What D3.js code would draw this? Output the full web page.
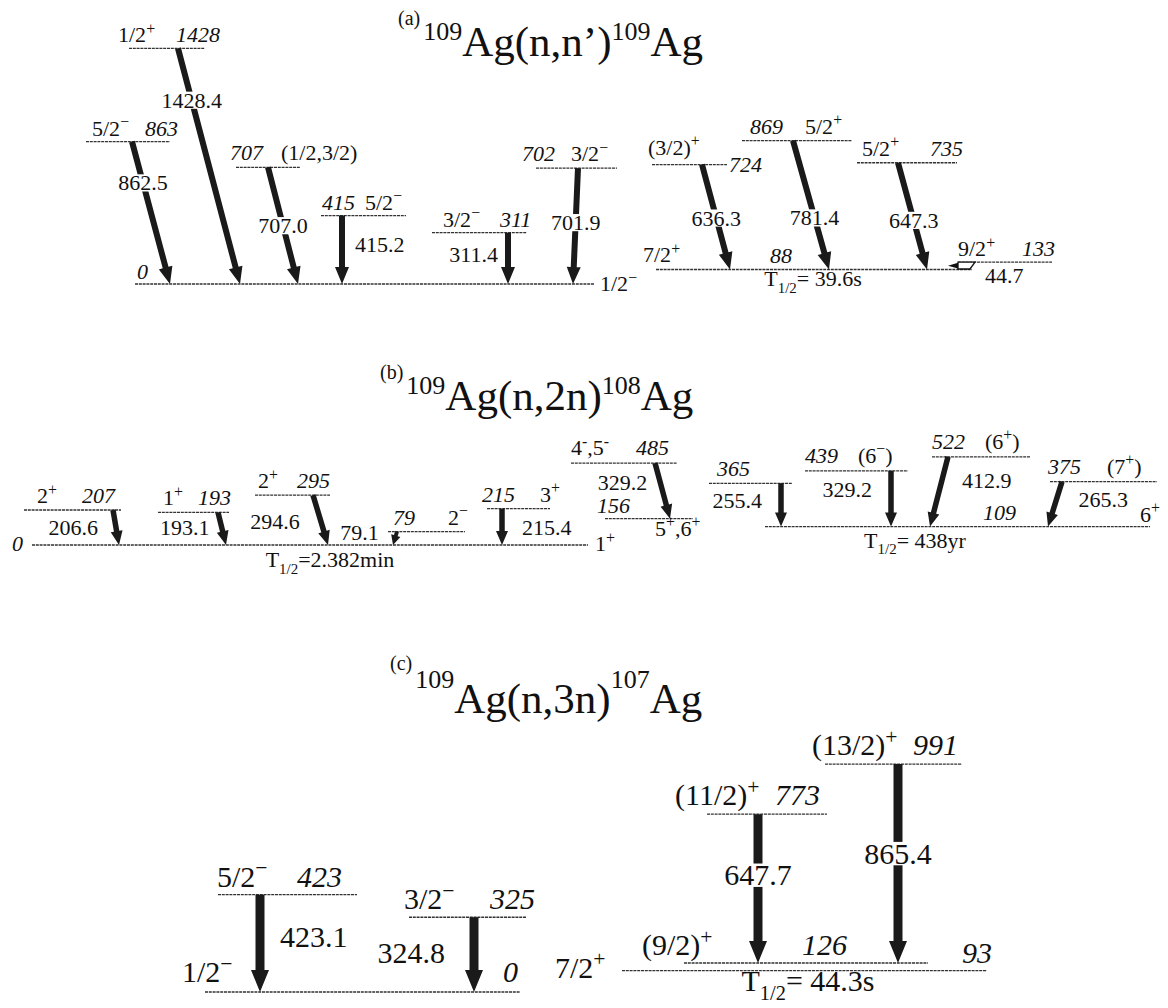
<!DOCTYPE html>
<html>
<head>
<script src="https://cdn.jsdelivr.net/npm/d3@7"></script>
</head>
<body style="margin:0">
<svg id="chart" width="1168" height="1008"></svg>
<script>
// ---------- (a) 109Ag(n,n')109Ag ----------
const titleA = { tag: "(a)", A1: "109", reaction: "Ag(n,n\u2019)", A2: "109", product: "Ag" };
const levelsA = [
  { E: 0, jp: "1/2\u2212" }, { E: 1428, jp: "1/2+" }, { E: 863, jp: "5/2\u2212" },
  { E: 707, jp: "(1/2,3/2)" }, { E: 415, jp: "5/2\u2212" }, { E: 311, jp: "3/2\u2212" },
  { E: 702, jp: "3/2\u2212" }, { E: 88, jp: "7/2+" }, { E: 724, jp: "(3/2)+" },
  { E: 869, jp: "5/2+" }, { E: 735, jp: "5/2+" }, { E: 133, jp: "9/2+" }
];
const gammasA = [
  { from: 1428, to: 0, Eg: "1428.4" }, { from: 863, to: 0, Eg: "862.5" },
  { from: 707, to: 0, Eg: "707.0" }, { from: 415, to: 0, Eg: "415.2" },
  { from: 311, to: 0, Eg: "311.4" }, { from: 702, to: 0, Eg: "701.9" },
  { from: 724, to: 88, Eg: "636.3" }, { from: 869, to: 88, Eg: "781.4" },
  { from: 735, to: 88, Eg: "647.3" }, { from: 133, to: 88, Eg: "44.7" }
];
const halfLifeA = [{ E: 88, T: "= 39.6s" }];

// ---------- (b) 109Ag(n,2n)108Ag ----------
const titleB = { tag: "(b)", A1: "109", reaction: "Ag(n,2n)", A2: "108", product: "Ag" };
const levelsB = [
  { E: 0, jp: "1+" }, { E: 207, jp: "2+" }, { E: 193, jp: "1+" }, { E: 295, jp: "2+" },
  { E: 79, jp: "2\u2212" }, { E: 215, jp: "3+" }, { E: 485, jp: "4-,5-" }, { E: 156, jp: "5+,6+" },
  { E: 109, jp: "6+" }, { E: 365, jp: "" }, { E: 439, jp: "(6\u2212)" }, { E: 522, jp: "(6+)" },
  { E: 375, jp: "(7+)" }
];
const gammasB = [
  { from: 207, to: 0, Eg: "206.6" }, { from: 193, to: 0, Eg: "193.1" },
  { from: 295, to: 0, Eg: "294.6" }, { from: 79, to: 0, Eg: "79.1" },
  { from: 215, to: 0, Eg: "215.4" }, { from: 485, to: 156, Eg: "329.2" },
  { from: 365, to: 109, Eg: "255.4" }, { from: 439, to: 109, Eg: "329.2" },
  { from: 522, to: 109, Eg: "412.9" }, { from: 375, to: 109, Eg: "265.3" }
];
const halfLifeB = [{ E: 0, T: "=2.382min" }, { E: 109, T: "= 438yr" }];

// ---------- (c) 109Ag(n,3n)107Ag ----------
const titleC = { tag: "(c)", A1: "109", reaction: "Ag(n,3n)", A2: "107", product: "Ag" };
const levelsC = [
  { E: 0, jp: "1/2\u2212" }, { E: 423, jp: "5/2\u2212" }, { E: 325, jp: "3/2\u2212" },
  { E: 93, jp: "7/2+" }, { E: 126, jp: "(9/2)+" }, { E: 773, jp: "(11/2)+" },
  { E: 991, jp: "(13/2)+" }
];
const gammasC = [
  { from: 423, to: 0, Eg: "423.1" }, { from: 325, to: 0, Eg: "324.8" },
  { from: 773, to: 126, Eg: "647.7" }, { from: 991, to: 126, Eg: "865.4" }
];
const halfLifeC = [{ E: 93, T: "= 44.3s" }];

// ---------- drawing layout (horizontal placement, label offsets) ----------
const levelPosA = [
  { E: 0, x0: 135, x1: 594, ex: 137, eb: -5, jx: 600, jb: 7 },
  { E: 1428, x0: 129, x1: 205, ex: 176, eb: -6, jx: 118, jb: -6 },
  { E: 863, x0: 86, x1: 170, ex: 145, eb: -6, jx: 92, jb: -6 },
  { E: 707, x0: 236, x1: 300, ex: 230, eb: -7, jx: 281, jb: -7 },
  { E: 415, x0: 321, x1: 406, ex: 322, eb: -6, jx: 365, jb: -6 },
  { E: 311, x0: 432, x1: 527, ex: 500, eb: -6, jx: 443, jb: -6 },
  { E: 702, x0: 536, x1: 617, ex: 522, eb: -7, jx: 571, jb: -7 },
  { E: 88, x0: 656, x1: 972, ex: 770, eb: -6, jx: 643, jb: -7 },
  { E: 724, x0: 652, x1: 727, ex: 729, eb: 7, jx: 648, jb: -10 },
  { E: 869, x0: 742, x1: 852, ex: 750, eb: -7, jx: 805, jb: -7 },
  { E: 735, x0: 857, x1: 957, ex: 930, eb: -7, jx: 862, jb: -7 },
  { E: 133, x0: 958, x1: 1052, ex: 1022, eb: -6, jx: 958, jb: -6 }
];
const gammaPosA = [
  { from: 1428, to: 0, xt: 178, xb: 240, lt: 0.22, ldx: 0, anchor: "gap" },
  { from: 863, to: 0, xt: 132, xb: 170, lt: 0.29, ldx: 0, anchor: "gap" },
  { from: 707, to: 0, xt: 268, xb: 298, lt: 0.5, ldx: 0, anchor: "gap" },
  { from: 415, to: 0, xt: 342, xb: 342, lt: 0.43, ldx: 13, anchor: "start" },
  { from: 311, to: 0, xt: 508, xb: 508, lt: 0.43, ldx: -10, anchor: "end" },
  { from: 702, to: 0, xt: 578, xb: 573, lt: 0.47, ldx: 0, anchor: "gap" },
  { from: 724, to: 88, xt: 702, xb: 730, lt: 0.51, ldx: 0, anchor: "gap" },
  { from: 869, to: 88, xt: 793, xb: 829, lt: 0.6, ldx: 0, anchor: "gap" },
  { from: 735, to: 88, xt: 898, xb: 927, lt: 0.54, ldx: 0, anchor: "gap" },
  { from: 133, to: 88, xt: 975, xb: 948, lt: 1.0, ldx: 10, ldy: 14, anchor: "hook" }
];
const halfLifePosA = [{ E: 88, cx: 813, dy: 17 }];

const levelPosB = [
  { E: 0, x0: 32, x1: 588, ex: 12, eb: 6, jx: 595, jb: 6 },
  { E: 207, x0: 24, x1: 121, ex: 82, eb: -7, jx: 37, jb: -7 },
  { E: 193, x0: 158, x1: 229, ex: 198, eb: -7, jx: 163, jb: -7 },
  { E: 295, x0: 255, x1: 330, ex: 297, eb: -7, jx: 258, jb: -7 },
  { E: 79, x0: 388, x1: 465, ex: 393, eb: -7, jx: 448, jb: -7 },
  { E: 215, x0: 487, x1: 550, ex: 482, eb: -7, jx: 540, jb: -7 },
  { E: 485, x0: 571, x1: 677, ex: 636, eb: -8, jx: 571, jb: -8 },
  { E: 156, x0: 605, x1: 693, ex: 597, eb: -6, jx: 655, jb: 17 },
  { E: 109, x0: 765, x1: 1150, ex: 983, eb: -7, jx: 1140, jb: -5 },
  { E: 365, x0: 709, x1: 792, ex: 717, eb: -7, jx: 717, jb: -7 },
  { E: 439, x0: 805, x1: 908, ex: 805, eb: -8, jx: 858, jb: -8 },
  { E: 522, x0: 932, x1: 1030, ex: 932, eb: -8, jx: 985, jb: -8 },
  { E: 375, x0: 1050, x1: 1157, ex: 1048, eb: -8, jx: 1107, jb: -8 }
];
const gammaPosB = [
  { from: 207, to: 0, xt: 113, xb: 119, lt: 0.5, ldx: -18, anchor: "end" },
  { from: 193, to: 0, xt: 218, xb: 226, lt: 0.45, ldx: -12, anchor: "end" },
  { from: 295, to: 0, xt: 313, xb: 328, lt: 0.52, ldx: -21, anchor: "end" },
  { from: 79, to: 0, xt: 397, xb: 393, lt: 0.08, ldx: -18, anchor: "end" },
  { from: 215, to: 0, xt: 502, xb: 502, lt: 0.53, ldx: 20, anchor: "start" },
  { from: 485, to: 156, xt: 655, xb: 670, lt: 0.35, ldx: -13, anchor: "end" },
  { from: 365, to: 109, xt: 781, xb: 781, lt: 0.39, ldx: -19, anchor: "end" },
  { from: 439, to: 109, xt: 891, xb: 891, lt: 0.34, ldx: -19, anchor: "end" },
  { from: 522, to: 109, xt: 948, xb: 930, lt: 0.34, ldx: 20, anchor: "start" },
  { from: 375, to: 109, xt: 1062, xb: 1048, lt: 0.4, ldx: 22, anchor: "start" }
];
const halfLifePosB = [{ E: 0, cx: 330, dy: 22 }, { E: 109, cx: 915, dy: 21 }];

const levelPosC = [
  { E: 0, x0: 205, x1: 520, ex: 503, eb: -10, jx: 182, jb: -10 },
  { E: 423, x0: 218, x1: 357, ex: 297, eb: -8, jx: 217, jb: -8 },
  { E: 325, x0: 409, x1: 526, ex: 490, eb: -8, jx: 404, jb: -8 },
  { E: 93, x0: 622, x1: 987, ex: 962, eb: -8, jx: 555, jb: 7 },
  { E: 126, x0: 684, x1: 928, ex: 802, eb: -8, jx: 642, jb: -8 },
  { E: 773, x0: 707, x1: 827, ex: 775, eb: -9, jx: 675, jb: -9 },
  { E: 991, x0: 825, x1: 962, ex: 913, eb: -9, jx: 812, jb: -9 }
];
const gammaPosC = [
  { from: 423, to: 0, xt: 260, xb: 260, lt: 0.43, ldx: 20, anchor: "start" },
  { from: 325, to: 0, xt: 474, xb: 474, lt: 0.48, ldx: -29, anchor: "end" },
  { from: 773, to: 126, xt: 758, xb: 758, lt: 0.41, ldx: 0, anchor: "gap" },
  { from: 991, to: 126, xt: 898, xb: 898, lt: 0.45, ldx: 0, anchor: "gap" }
];
const halfLifePosC = [{ E: 93, cx: 808, dy: 20 }];

const panels = [
  { title: titleA, tx: 398, tb: 56, tagUp: 31, supUp: 16, levels: levelsA, gammas: gammasA, halfLives: halfLifeA,
    levelPos: levelPosA, gammaPos: gammaPosA, hlPos: halfLifePosA,
    base: 284, kpx: 0.165, fs: 22, sw: 6, hw: 14, hl: 17 },
  { title: titleB, tx: 380, tb: 410, tagUp: 31, supUp: 16, levels: levelsB, gammas: gammasB, halfLives: halfLifeB,
    levelPos: levelPosB, gammaPos: gammaPosB, hlPos: halfLifePosB,
    base: 545, kpx: 0.169, fs: 22, sw: 5.5, hw: 12, hl: 14 },
  { title: titleC, tx: 390, tb: 713, tagUp: 43, supUp: 25, levels: levelsC, gammas: gammasC, halfLives: halfLifeC,
    levelPos: levelPosC, gammaPos: gammaPosC, hlPos: halfLifePosC,
    base: 992, kpx: 0.23, fs: 30, sw: 9, hw: 18, hl: 22 }
];

const W = 1168;
const svg = d3.select("#chart");
const marks = svg.append("g");
const x = d3.scaleLinear().domain([0, W]).range([0, W]);
const lineGen = d3.line();

// every text element names its serif face itself
function addText(size) {
  return svg.append("text")
    .attr("font-size", size)
    .attr("font-family", "Liberation Serif")
    .style("font-family", '"Liberation Serif"')
    .attr("fill", "#111");
}

// spin-parity text: signs are raised as superscripts
function writeJp(sel, str, fs) {
  const parts = str.match(/[+\-\u2212]+|[^+\-\u2212]+/g) || [];
  let raised = false;
  parts.forEach(p => {
    const sign = /^[+\-\u2212]+$/.test(p);
    const t = sel.append("tspan").text(p);
    if (sign) {
      t.attr("font-size", fs * 0.72);
      if (!raised) { t.attr("dy", -fs * 0.38); raised = true; }
    } else {
      t.attr("font-size", fs);
      if (raised) { t.attr("dy", fs * 0.38); raised = false; }
    }
  });
}

function arrowShape(x1, y1, x2, y2, sw, hw, hl) {
  const dx = x2 - x1, dy = y2 - y1, L = Math.hypot(dx, dy);
  const ux = dx / L, uy = dy / L, px = -uy, py = ux;
  hl = Math.min(hl, L * 0.7);
  if (L < 20) { hw = hw * 0.8; sw = sw * 0.7; }
  const bx = x2 - ux * hl, by = y2 - uy * hl;
  const pts = [
    [x1 + px * sw / 2, y1 + py * sw / 2], [bx + px * sw / 2, by + py * sw / 2],
    [bx + px * hw / 2, by + py * hw / 2], [x2, y2],
    [bx - px * hw / 2, by - py * hw / 2], [bx - px * sw / 2, by - py * sw / 2],
    [x1 - px * sw / 2, y1 - py * sw / 2]
  ];
  return lineGen(pts) + "Z";
}

panels.forEach(p => {
  const y = d3.scaleLinear().domain([0, 1000]).range([p.base, p.base - 1000 * p.kpx]);
  const lvl = new Map(p.levels.map(d => [d.E, d]));

  // title with mass-number superscripts
  const t = addText(43).attr("x", x(p.tx)).attr("y", p.tb);
  t.append("tspan").attr("font-size", 20).attr("dy", -p.tagUp).text(p.title.tag);
  t.append("tspan").attr("font-size", 26).attr("dy", p.tagUp - p.supUp).attr("dx", 3).text(p.title.A1);
  t.append("tspan").attr("font-size", 43).attr("dy", p.supUp).text(p.title.reaction);
  t.append("tspan").attr("font-size", 26).attr("dy", -p.supUp).text(p.title.A2);
  t.append("tspan").attr("font-size", 43).attr("dy", p.supUp).text(p.title.product);

  // level lines
  marks.append("g").selectAll("line").data(p.levelPos).join("line")
    .attr("x1", d => x(d.x0)).attr("x2", d => x(d.x1))
    .attr("y1", d => y(d.E)).attr("y2", d => y(d.E))
    .attr("stroke", "#333").attr("stroke-width", 1.3).attr("stroke-dasharray", "3,0.8");

  // level energies (italic) and spin-parity labels
  p.levelPos.forEach(d => {
    addText(p.fs).attr("x", x(d.ex)).attr("y", y(d.E) + d.eb)
      .attr("font-style", "italic").text(String(d.E));
    const jp = lvl.get(d.E).jp;
    if (jp) writeJp(addText(p.fs).attr("x", x(d.jx)).attr("y", y(d.E) + d.jb), jp, p.fs);
  });

  // half-lives
  p.halfLives.forEach((h, i) => {
    const hp = p.hlPos[i];
    const th = addText(p.fs).attr("x", x(hp.cx)).attr("y", y(h.E) + hp.dy).attr("text-anchor", "middle");
    th.append("tspan").text("T");
    th.append("tspan").attr("font-size", p.fs * 0.68).attr("dy", p.fs * 0.3).text("1/2");
    th.append("tspan").attr("dy", -p.fs * 0.3).text(h.T);
  });

  // gamma transitions
  p.gammas.forEach((gm, i) => {
    const gp = p.gammaPos[i];
    const y1 = y(gm.from), y2 = y(gm.to);
    const x1 = x(gp.xt), x2 = x(gp.xb);
    if (gp.anchor === "hook") {
      // short low-energy transition drawn as a small open arrow
      const xm = x1 - 17;
      marks.append("path")
        .attr("d", lineGen([[xm, y1], [x1, y1], [x1 - 5, y2 - 0.5], [xm, y2 - 0.5]]) + "Z")
        .attr("fill", "#fff").attr("stroke", "#111").attr("stroke-width", 1.3);
      marks.append("path")
        .attr("d", lineGen([[x2, (y1 + y2) / 2], [xm, y1 + 0.8], [xm, y2 - 1]]) + "Z")
        .attr("fill", "#111");
      addText(p.fs).attr("x", x1 + gp.ldx).attr("y", y2 + gp.ldy).text(gm.Eg);
      return;
    }
    marks.append("path").attr("d", arrowShape(x1, y1, x2, y2, p.sw, p.hw, p.hl)).attr("fill", "#1a1a1a");
    const lx = x1 + (x2 - x1) * gp.lt, ly = y1 + (y2 - y1) * gp.lt;
    const anchor = gp.anchor === "gap" ? "middle" : gp.anchor;
    addText(p.fs).attr("x", lx + gp.ldx).attr("y", ly + p.fs * 0.34)
      .attr("text-anchor", anchor).text(gm.Eg);
    if (gp.anchor === "gap") {
      // white gap in the arrow behind its energy label
      const cw = gm.Eg.length * p.fs * 0.47, ch = p.fs * 0.78;
      marks.append("rect")
        .attr("x", lx - cw / 2).attr("y", ly - ch / 2).attr("width", cw).attr("height", ch)
        .attr("fill", "#fff");
    }
  });
});
</script>
</body>
</html>
